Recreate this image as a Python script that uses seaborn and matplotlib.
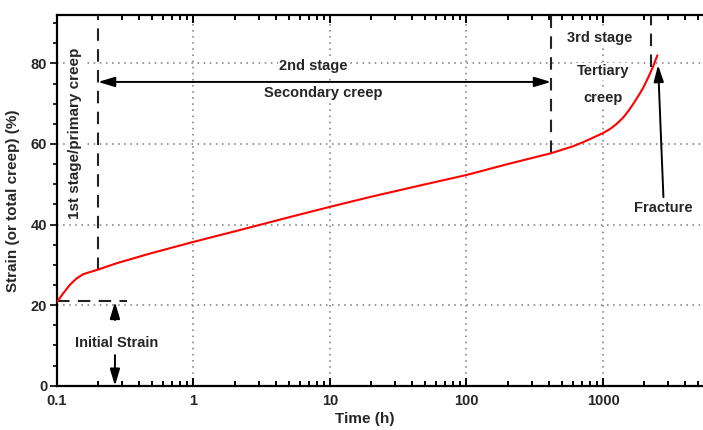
import numpy as np
import pandas as pd
import matplotlib
matplotlib.use("Agg")
import matplotlib.pyplot as plt
import seaborn as sns
from matplotlib.ticker import FixedLocator, NullFormatter

# ---- data ----
time_h = [0.1, 0.111, 0.124, 0.139, 0.156, 0.195, 0.274, 0.48, 1, 2, 5, 10, 20, 50,
          100, 200, 416, 484, 600, 720, 849, 1000, 1124, 1250, 1400, 1550, 1700, 1850,
          1974, 2150, 2333, 2500]
strain = [20.8, 22.9, 25.0, 26.6, 27.7, 28.7, 30.4, 32.8, 35.7, 38.3, 41.8, 44.4, 46.9, 50.0,
          52.3, 55.0, 57.7, 58.4, 59.4, 60.5, 61.6, 62.7, 63.7, 64.9, 66.5, 68.4, 70.4, 72.4,
          74.0, 76.6, 79.3, 82.0]

x_ticks = [0.1, 1, 10, 100, 1000]
x_tick_labels = ["0.1", "1", "10", "100", "1000"]
y_ticks = [0, 20, 40, 60, 80]
y_tick_labels = ["0", "20", "40", "60", "80"]

# stage boundaries / annotation anchors
t_primary_end = 0.2
t_secondary_end = 416
t_fracture = 2230
initial_strain = 21.0

df = pd.DataFrame({"Time (h)": time_h, "Strain": strain})

sns.set_style("white")
plt.rcParams["font.family"] = ["Liberation Sans", "DejaVu Sans"]
plt.rcParams["font.weight"] = "bold"

fig = plt.figure(figsize=(7.03, 4.30), dpi=100)
ax = fig.add_axes([0.081, 0.103, 0.919, 0.862])

ax.set_xscale("log")
ax.set_xlim(0.1, 5400)
ax.set_ylim(0, 92)

sns.lineplot(data=df, x="Time (h)", y="Strain", color="red", lw=1.5, ax=ax, sort=False, zorder=5)

# grid
for xv in x_ticks[1:]:
    ax.axvline(xv, color="#777777", ls=(0, (1, 3)), lw=1.1, zorder=0)
for yv in y_ticks[1:]:
    ax.axhline(yv, color="#777777", ls=(0, (1, 3)), lw=1.1, zorder=0)

# spines
for s in ["left", "bottom", "top"]:
    ax.spines[s].set_visible(True)
    ax.spines[s].set_linewidth(1.6)
    ax.spines[s].set_color("black")
ax.spines["right"].set_visible(False)

ax.xaxis.set_major_locator(FixedLocator(x_ticks))
ax.set_xticklabels(x_tick_labels)
ax.xaxis.set_minor_locator(matplotlib.ticker.LogLocator(base=10, subs=np.arange(2, 10)))
ax.xaxis.set_minor_formatter(NullFormatter())
ax.yaxis.set_major_locator(FixedLocator(y_ticks))
ax.set_yticklabels(y_tick_labels)
ax.yaxis.set_minor_locator(matplotlib.ticker.MultipleLocator(5))

ax.tick_params(axis="x", which="both", direction="in", top=True, bottom=True,
               labeltop=False, width=1.4, color="black")
ax.tick_params(axis="x", which="major", length=6, pad=6, labelsize=10.5)
ax.tick_params(axis="x", which="minor", length=3.5)
ax.tick_params(axis="y", which="both", direction="out", left=True, right=False, width=1.4)
ax.tick_params(axis="y", which="major", length=5, pad=2, labelsize=10.5)
ax.tick_params(axis="y", which="minor", length=3)
for lab in ax.get_xticklabels() + ax.get_yticklabels():
    lab.set_fontweight("bold")

ax.set_xlabel("Time (h)", fontsize=11, fontweight="bold")
ax.set_ylabel("Strain (or total creep) (%)", fontsize=11, fontweight="bold")
ax.xaxis.set_label_coords(0.477, -0.072)
ax.yaxis.set_label_coords(-0.057, 0.5)

dash = (0, (6, 4))
dcol = "#222222"
# dashed stage boundaries
ax.plot([t_primary_end, t_primary_end], [28.7, 92], ls=dash, color=dcol, lw=1.5, zorder=4)
ax.plot([t_secondary_end, t_secondary_end], [57.7, 92], ls=dash, color=dcol, lw=1.5, zorder=4)
ax.plot([t_fracture, t_fracture], [79.0, 92], ls=dash, color=dcol, lw=1.5, zorder=4)
ax.plot([0.1, 0.326], [initial_strain, initial_strain], ls=dash, color=dcol, lw=1.5, zorder=4)

arrow_kw = dict(arrowstyle="-|>,head_length=1.0,head_width=0.3", color="black", lw=1.4,
                shrinkA=0, shrinkB=0)
# secondary double arrow
ax.annotate("", xy=(t_secondary_end, 75.4), xytext=(t_primary_end, 75.4),
            arrowprops=dict(arrowstyle="<|-|>,head_length=1.0,head_width=0.3", color="black",
                            lw=1.4, shrinkA=0, shrinkB=0))
# initial strain arrows
ax.annotate("", xy=(0.266, 20.8), xytext=(0.266, 16.3), arrowprops=arrow_kw)
ax.annotate("", xy=(0.266, 0.0), xytext=(0.266, 7.6), arrowprops=arrow_kw)
# fracture arrow
ax.annotate("", xy=(2530, 79.6), xytext=(2770, 46.8), arrowprops=arrow_kw)

tkw = dict(fontweight="bold", ha="center", va="center", zorder=6,
           bbox=dict(facecolor="white", edgecolor="none", pad=1.0))
ax.text(7.6, 79.3, "2nd stage", fontsize=10.5, **tkw)
ax.text(8.9, 72.6, "Secondary creep", fontsize=10.5, **tkw)
ax.text(950, 86.2, "3rd stage", fontsize=10.5, **tkw)
ax.text(1000, 78.1, "Tertiary", fontsize=10.5, **tkw)
ax.text(1000, 71.5, "creep", fontsize=10.5, **tkw)
ax.text(2770, 44.1, "Fracture", fontsize=10.5, **tkw)
ax.text(0.275, 10.5, "Initial Strain", fontsize=10.5, **tkw)
ax.text(0.135, 62.7, "1st stage/primary creep", rotation=90, fontsize=11, **tkw)

fig.savefig("out.png", dpi=100)
